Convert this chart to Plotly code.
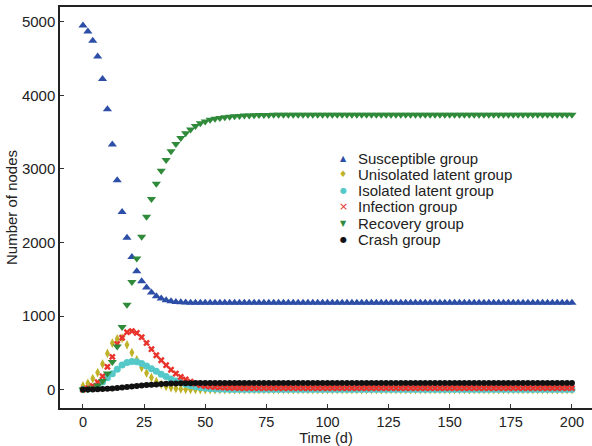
import plotly.graph_objects as go

time_d = list(range(0, 201, 2))

susceptible = [
    4950, 4868, 4741, 4528, 4220, 3812, 3330, 2845, 2413, 2064,
    1801, 1610, 1474, 1388, 1320, 1270, 1239, 1215, 1202, 1192,
    1186, 1183, 1181, 1180, 1180, 1180, 1180, 1180, 1180, 1180,
    1180, 1180, 1180, 1180, 1180, 1180, 1180, 1180, 1180, 1180,
    1180, 1180, 1180, 1180, 1180, 1180, 1180, 1180, 1180, 1180,
    1180, 1180, 1180, 1180, 1180, 1180, 1180, 1180, 1180, 1180,
    1180, 1180, 1180, 1180, 1180, 1180, 1180, 1180, 1180, 1180,
    1180, 1180, 1180, 1180, 1180, 1180, 1180, 1180, 1180, 1180,
    1180, 1180, 1180, 1180, 1180, 1180, 1180, 1180, 1180, 1180,
    1180, 1180, 1180, 1180, 1180, 1180, 1180, 1180, 1180, 1180,
    1180,
]

unisolated_latent = [
    50, 85, 150, 232, 348, 492, 632, 690, 700, 608,
    503, 405, 300, 224, 163, 109, 72, 45, 27, 16,
    9, 5, 3, 2, 1, 0, 0, 0, 0, 0,
    0, 0, 0, 0, 0, 0, 0, 0, 0, 0,
    0, 0, 0, 0, 0, 0, 0, 0, 0, 0,
    0, 0, 0, 0, 0, 0, 0, 0, 0, 0,
    0, 0, 0, 0, 0, 0, 0, 0, 0, 0,
    0, 0, 0, 0, 0, 0, 0, 0, 0, 0,
    0, 0, 0, 0, 0, 0, 0, 0, 0, 0,
    0, 0, 0, 0, 0, 0, 0, 0, 0, 0,
    0,
]

isolated_latent = [
    0, 8, 25, 55, 103, 160, 215, 275, 335, 370,
    383, 378, 355, 320, 285, 248, 210, 177, 144, 117,
    95, 72, 54, 38, 27, 19, 13, 9, 6, 4,
    3, 2, 1, 1, 0, 0, 0, 0, 0, 0,
    0, 0, 0, 0, 0, 0, 0, 0, 0, 0,
    0, 0, 0, 0, 0, 0, 0, 0, 0, 0,
    0, 0, 0, 0, 0, 0, 0, 0, 0, 0,
    0, 0, 0, 0, 0, 0, 0, 0, 0, 0,
    0, 0, 0, 0, 0, 0, 0, 0, 0, 0,
    0, 0, 0, 0, 0, 0, 0, 0, 0, 0,
    0,
]

infection = [
    0, 20, 50, 100, 181, 310, 445, 620, 705, 780,
    796, 770, 712, 634, 549, 467, 399, 332, 270, 218,
    172, 138, 108, 82, 62, 48, 40, 34, 30, 27,
    25, 23, 22, 21, 20, 20, 20, 20, 20, 20,
    20, 20, 20, 20, 20, 20, 20, 20, 20, 20,
    20, 20, 20, 20, 20, 20, 20, 20, 20, 20,
    20, 20, 20, 20, 20, 20, 20, 20, 20, 20,
    20, 20, 20, 20, 20, 20, 20, 20, 20, 20,
    20, 20, 20, 20, 20, 20, 20, 20, 20, 20,
    20, 20, 20, 20, 20, 20, 20, 20, 20, 20,
    20,
]

recovery = [
    0, 5, 20, 55, 117, 218, 376, 585, 852, 1152,
    1461, 1783, 2077, 2350, 2590, 2799, 2976, 3122, 3240, 3339,
    3421, 3485, 3535, 3584, 3621, 3645, 3666, 3680, 3693, 3702,
    3710, 3716, 3720, 3724, 3727, 3729, 3731, 3732, 3733, 3734,
    3735, 3735, 3735, 3735, 3735, 3735, 3735, 3735, 3735, 3735,
    3735, 3735, 3735, 3735, 3735, 3735, 3735, 3735, 3735, 3735,
    3735, 3735, 3735, 3735, 3735, 3735, 3735, 3735, 3735, 3735,
    3735, 3735, 3735, 3735, 3735, 3735, 3735, 3735, 3735, 3735,
    3735, 3735, 3735, 3735, 3735, 3735, 3735, 3735, 3735, 3735,
    3735, 3735, 3735, 3735, 3735, 3735, 3735, 3735, 3735, 3735,
    3735,
]

crash = [
    0, 1, 2, 4, 7, 11, 16, 21, 27, 34,
    42, 49, 55, 61, 66, 71, 75, 79, 82, 84,
    86, 87, 88, 89, 89, 90, 90, 90, 90, 90,
    90, 90, 90, 90, 90, 90, 90, 90, 90, 90,
    90, 90, 90, 90, 90, 90, 90, 90, 90, 90,
    90, 90, 90, 90, 90, 90, 90, 90, 90, 90,
    90, 90, 90, 90, 90, 90, 90, 90, 90, 90,
    90, 90, 90, 90, 90, 90, 90, 90, 90, 90,
    90, 90, 90, 90, 90, 90, 90, 90, 90, 90,
    90, 90, 90, 90, 90, 90, 90, 90, 90, 90,
    90,
]

# name, values, plot symbol, colour, size, legend glyph, glyph size
series = [
    ("Susceptible group", susceptible, "triangle-up", "#2c4ea6", 8, "\u25B2", 8),
    ("Unisolated latent group", unisolated_latent, "diamond-tall", "#bfb227", 7, "\u2666", 9),
    ("Isolated latent group", isolated_latent, "circle", "#55c9c9", 7, "\u25CF", 8),
    ("Infection group", infection, "x", "#e8342c", 6, "\u00D7", 11),
    ("Recovery group", recovery, "triangle-down", "#2f8a3a", 8, "\u25BC", 8),
    ("Crash group", crash, "circle", "#111111", 6, "\u25CF", 8),
]

FONT = "Liberation Sans, Arial, sans-serif"

# plot-area geometry (pixels) used for placing the legend block
L, R, T, B = 60, 592, 7, 408
LEG_MARK_X, LEG_TEXT_X, LEG_Y0, LEG_DY = 343, 356, 158, 16.3

fig = go.Figure()
annotations = []
for i, (name, vals, sym, col, sz, glyph, gsz) in enumerate(series):
    fig.add_trace(go.Scatter(
        x=time_d, y=vals, mode="markers", name=name, showlegend=False,
        marker=dict(symbol=sym, color=col, size=sz, line=dict(width=0)),
    ))
    py = LEG_Y0 + i * LEG_DY
    yp = (B - py) / (B - T)
    annotations.append(dict(
        xref="paper", yref="paper", x=(LEG_MARK_X - L) / (R - L), y=yp,
        xanchor="center", yanchor="middle", showarrow=False,
        text=glyph, font=dict(family="DejaVu Sans", size=gsz, color=col),
    ))
    annotations.append(dict(
        xref="paper", yref="paper", x=(LEG_TEXT_X - L) / (R - L), y=yp,
        xanchor="left", yanchor="middle", showarrow=False,
        text=name, font=dict(family=FONT, size=15, color="#222222"),
    ))

fig.update_layout(
    width=592, height=446,
    margin=dict(l=L, r=592 - R, t=T, b=446 - B),
    paper_bgcolor="white", plot_bgcolor="white",
    font=dict(family=FONT, size=14, color="#222222"),
    showlegend=False,
    annotations=annotations,
    xaxis=dict(
        range=[-9.4, 208.2], tickmode="array",
        tickvals=[0, 25, 50, 75, 100, 125, 150, 175, 200],
        ticks="inside", ticklen=4, tickcolor="#333333",
        showline=True, linecolor="#222222", linewidth=1.5, mirror=True,
        showgrid=False, zeroline=False,
        title=dict(text="Time (d)", font=dict(size=14.5), standoff=4),
        tickfont=dict(size=14.5),
        ticklabelstandoff=0,
    ),
    yaxis=dict(
        range=[-250, 5200], tickmode="array",
        tickvals=[0, 1000, 2000, 3000, 4000, 5000],
        ticks="inside", ticklen=4, tickcolor="#333333",
        showline=True, linecolor="#222222", linewidth=1.5,
        showgrid=False, zeroline=False,
        title=dict(text="Number of nodes", font=dict(size=15), standoff=1),
        tickfont=dict(size=15),
        ticklabelstandoff=0,
    ),
)

fig.write_html("out.html")
